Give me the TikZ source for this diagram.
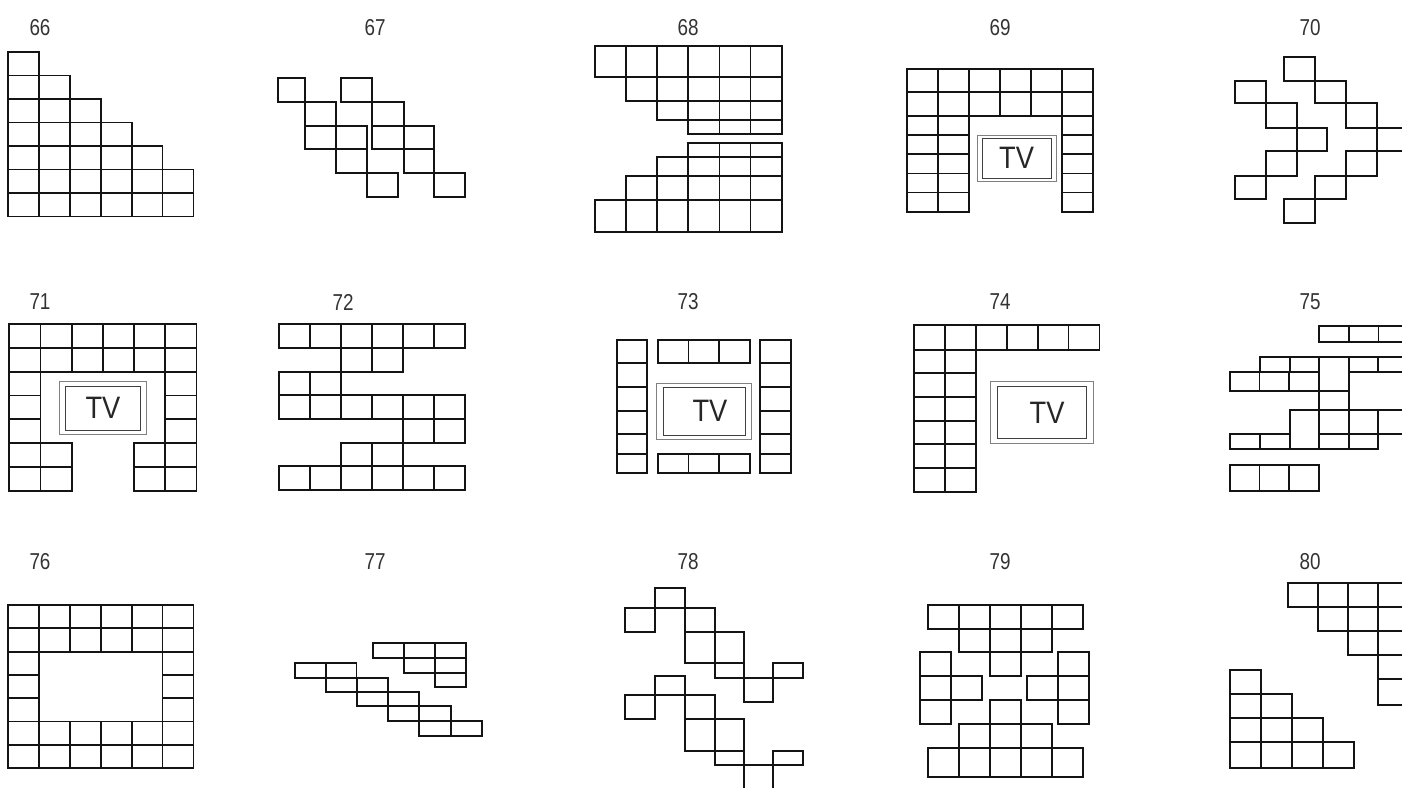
\documentclass[tikz,border=0pt]{standalone}
\usepackage{fontspec}
\setmainfont{Liberation Sans}
\newcommand{\seatrow}[5]{\foreach \k in {1,...,#5}{\draw[seat] ({#1+(\k-1)*(#3)},{#2}) rectangle ++(#3,#4);}}
\newcommand{\seatbox}[4]{\draw[seat] (#1,#2) rectangle (#3,#4);}
\newcommand{\tvset}[9]{\draw[tvo] (#1,#2) rectangle (#3,#4);\draw[tvi] (#5,#6) rectangle (#7,#8);}
\begin{document}
\begin{tikzpicture}[x=1pt,y=-1pt,
  seat/.style={draw=black!92, line width=1.8pt},
  tvo/.style={draw=black!50, line width=0.8pt},
  tvi/.style={draw=black!75, line width=1pt},
  lab/.style={font=\fontsize{23}{23}\selectfont, text=black!80, xscale=0.82},
  tvt/.style={font=\fontsize{31}{31}\selectfont, text=black!85, xscale=0.88}]
\useasboundingbox (0,0) rectangle (1402,787);
\clip (0,0) rectangle (1402,787);
% labels
\node[lab] (l66) at (40,28) {66};
\node[lab] (l67) at (375,28) {67};
\node[lab] (l68) at (688,28) {68};
\node[lab] (l69) at (1000,28) {69};
\node[lab] (l70) at (1310,28) {70};
\node[lab] (l71) at (40,302) {71};
\node[lab] (l72) at (343,302) {72};
\node[lab] (l73) at (688,302) {73};
\node[lab] (l74) at (1000,302) {74};
\node[lab] (l75) at (1310,302) {75};
\node[lab] (l76) at (40,562) {76};
\node[lab] (l77) at (375,562) {77};
\node[lab] (l78) at (688,562) {78};
\node[lab] (l79) at (1000,562) {79};
\node[lab] (l80) at (1310,562) {80};
% 66
\seatrow{8}{52}{30.9}{23.5}{1}
\seatrow{8}{75.5}{30.9}{23.5}{2}
\seatrow{8}{99}{30.9}{23.5}{3}
\seatrow{8}{122.5}{30.9}{23.5}{4}
\seatrow{8}{146}{30.9}{23.5}{5}
\seatrow{8}{169.5}{30.9}{23.5}{6}
\seatrow{8}{193}{30.9}{23.5}{6}
% 67
\seatbox{277.7}{78}{305}{102}
\seatbox{305}{102}{336}{126}
\seatbox{305}{126}{336}{149.3}
\seatbox{336}{126}{366.7}{149.3}
\seatbox{336}{149.3}{366.7}{173.3}
\seatbox{366.7}{173.3}{397.7}{196.7}
\seatbox{341}{78}{372.3}{102}
\seatbox{372.3}{102}{403.7}{126}
\seatbox{372.3}{126}{403.7}{149.3}
\seatbox{403.7}{126}{434.3}{149.3}
\seatbox{403.7}{149.3}{434.3}{173.3}
\seatbox{434.3}{173.3}{465}{196.7}
% 68
\seatrow{595}{45.7}{31.1}{31.6}{6}
\seatrow{626.1}{77.3}{31.1}{23.7}{5}
\seatrow{657.2}{101}{31.1}{19}{4}
\seatrow{688.3}{120}{31.1}{14.3}{3}
\seatrow{688.3}{143.3}{31.1}{14}{3}
\seatrow{657.2}{157.3}{31.1}{18.7}{4}
\seatrow{626.1}{176}{31.1}{24}{5}
\seatrow{595}{200}{31.1}{31.7}{6}
% 69
\seatrow{907.3}{69}{31}{23.3}{6}
\seatrow{907.3}{92.3}{31}{23.7}{6}
\foreach \j in {0,...,4}{\seatrow{907.3}{116+19.14*\j}{31}{19.14}{2}\seatrow{1062.3}{116+19.14*\j}{31}{19.14}{1}}
\tvset{977.7}{135}{1056.3}{181}{982.7}{138.7}{1051}{178.3}{}
\node[tvt] (tv69) at (1016.5,158) {TV};
% 70
\seatbox{1234.7}{80.7}{1265.7}{103.3}
\seatbox{1265.7}{103.3}{1296.7}{128.3}
\seatbox{1296.7}{128.3}{1327.3}{151}
\seatbox{1265.7}{151}{1296.7}{176}
\seatbox{1234.7}{176}{1265.7}{199.3}
\seatbox{1284}{56.7}{1315}{80.7}
\seatbox{1315}{80.7}{1346}{103.3}
\seatbox{1346}{103.3}{1376.7}{128.3}
\seatbox{1376.7}{128.3}{1407.7}{151}
\seatbox{1346}{151}{1376.7}{176}
\seatbox{1315}{176}{1346}{199.3}
\seatbox{1284}{199.3}{1315}{222.7}
% 71
\seatrow{9.3}{324.3}{31.2}{24}{6}
\seatrow{9.3}{348.3}{31.2}{23.7}{6}
\foreach \j in {0,1,2}{\seatrow{9.3}{372+23.55*\j}{31.2}{23.55}{1}\seatrow{165.3}{372+23.55*\j}{31.2}{23.55}{1}}
\foreach \j in {0,1}{\seatrow{9.3}{442.7+24.15*\j}{31.2}{24.15}{2}\seatrow{134.1}{442.7+24.15*\j}{31.2}{24.15}{2}}
\tvset{59.3}{381.7}{146.7}{434}{65.7}{386}{140.7}{430}{}
\node[tvt] (tv71) at (103,408) {TV};
% 72
\seatrow{279.3}{324.3}{30.95}{23.4}{6}
\seatrow{341.2}{347.7}{30.95}{24}{2}
\seatrow{279.3}{371.7}{30.95}{23.3}{2}
\seatrow{279.3}{395}{30.95}{24}{6}
\seatrow{403.1}{419}{30.95}{23.7}{2}
\seatrow{341.2}{442.7}{30.95}{23}{2}
\seatrow{279.3}{465.7}{30.95}{24.3}{6}
% 73
\foreach \a/\b in {340/363.3,363.3/387.3,387.3/410.7,410.7/434.3,434.3/454,454/472.7}{\seatbox{616.7}{\a}{647.3}{\b}\seatbox{760}{\a}{791}{\b}}
\seatrow{657.7}{340}{30.77}{23.3}{3}
\seatrow{657.7}{454}{30.77}{18.7}{3}
\tvset{656.7}{383.3}{751.7}{439.3}{663.3}{387.3}{745}{435}{}
\node[tvt] (tv73) at (710,411) {TV};
% 74
\seatrow{914}{325}{30.9}{25}{6}
\foreach \a/\b in {350/373.3,373.3/397.3,397.3/420.7,420.7/444.3,444.3/467.7,467.7/491.7}{\seatrow{914}{\a}{30.9}{\b-\a}{2}}
\tvset{990.3}{381.7}{1093.3}{443.3}{997.7}{386}{1086}{438.3}{}
\node[tvt] (tv74) at (1047,413) {TV};
% 75
\seatrow{1319}{325.7}{29.7}{16.6}{3}
\seatbox{1260}{357.3}{1289.7}{372.3}
\seatbox{1289.7}{357.3}{1319}{372.3}
\seatbox{1349}{357.3}{1378.3}{372.3}
\seatbox{1378.3}{357.3}{1408}{372.3}
\seatrow{1229.7}{372.3}{29.8}{18.4}{3}
\seatbox{1319}{357.3}{1349}{390.7}
\seatbox{1319}{390.7}{1349}{410}
\seatbox{1289.7}{410}{1319}{449.3}
\seatbox{1319}{410}{1349}{434}
\seatbox{1349}{410}{1378.3}{434}
\seatbox{1378.3}{410}{1408}{434}
\seatbox{1319}{434}{1349}{449.3}
\seatbox{1349}{434}{1378.3}{449.3}
\seatbox{1229.7}{434}{1260}{449.3}
\seatbox{1260}{434}{1289.7}{449.3}
\seatrow{1229.7}{465}{29.8}{25.7}{3}
% 76
\seatrow{8}{605}{30.9}{23.3}{6}
\seatrow{8}{628.3}{30.9}{23.3}{6}
\foreach \j in {0,1,2}{\seatrow{8}{651.6+23.3*\j}{30.9}{23.3}{1}\seatrow{162.5}{651.6+23.3*\j}{30.9}{23.3}{1}}
\seatrow{8}{721.5}{30.9}{23.3}{6}
\seatrow{8}{744.8}{30.9}{23.3}{6}
% 77
\seatrow{295}{662.7}{30.7}{15}{2}
\seatbox{325.7}{677.7}{357.3}{692.3}
\seatbox{357.3}{677.7}{388.3}{692.3}
\seatbox{357.3}{692.3}{388.3}{706}
\seatbox{388.3}{692.3}{419.3}{706}
\seatbox{388.3}{706}{419.3}{720.7}
\seatbox{419.3}{706}{450.7}{720.7}
\seatbox{419.3}{720.7}{450.7}{736}
\seatbox{450.7}{720.7}{481.7}{736}
\seatrow{372.7}{642.7}{31.1}{15}{3}
\seatrow{403.8}{657.7}{31.1}{15}{2}
\seatrow{434.9}{672.7}{31.1}{14.6}{1}
% 78
\seatbox{655}{588.3}{685}{608.3}
\seatbox{625}{608.3}{655}{631.7}
\seatbox{685}{608.3}{715}{631.7}
\seatbox{685}{631.7}{715}{663.3}
\seatbox{715}{631.7}{744}{663.3}
\seatbox{715}{663.3}{744}{677.7}
\seatbox{744}{677.7}{773.3}{701.7}
\seatbox{773.3}{662.7}{803.3}{677.7}
\seatbox{655}{676}{685}{695}
\seatbox{625}{695}{655}{719.3}
\seatbox{685}{695}{715}{719.3}
\seatbox{685}{719.3}{715}{750.7}
\seatbox{715}{719.3}{744}{750.7}
\seatbox{715}{750.7}{744}{765}
\seatbox{773.3}{750.7}{803.3}{765}
\draw[seat] (744,765) -- (744,790) (773.3,765) -- (773.3,790) (744,765) -- (773.3,765);
% 79
\seatrow{928}{605}{31}{24}{5}
\seatrow{959}{629}{31}{23}{3}
\seatbox{990}{652}{1021}{676}
\seatbox{920}{652}{951}{676}
\seatrow{920}{676}{31}{24}{2}
\seatbox{920}{700}{951}{724}
\seatbox{1058}{652}{1089}{676}
\seatrow{1027}{676}{31}{24}{2}
\seatbox{1058}{700}{1089}{724}
\seatbox{990}{700}{1021}{724}
\seatrow{959}{724}{31}{24}{3}
\seatrow{928}{748}{31}{29}{5}
% 80
\seatrow{1288}{583}{30}{24}{4}
\seatrow{1318}{607}{30}{24}{3}
\seatrow{1348}{631}{30}{24}{2}
\seatrow{1378}{655}{30}{24}{1}
\seatrow{1378}{679}{30}{26}{1}
\seatrow{1230}{670}{31}{24}{1}
\seatrow{1230}{694}{31}{24}{2}
\seatrow{1230}{718}{31}{24}{3}
\seatrow{1230}{742}{31}{26}{4}
\end{tikzpicture}
\end{document}
